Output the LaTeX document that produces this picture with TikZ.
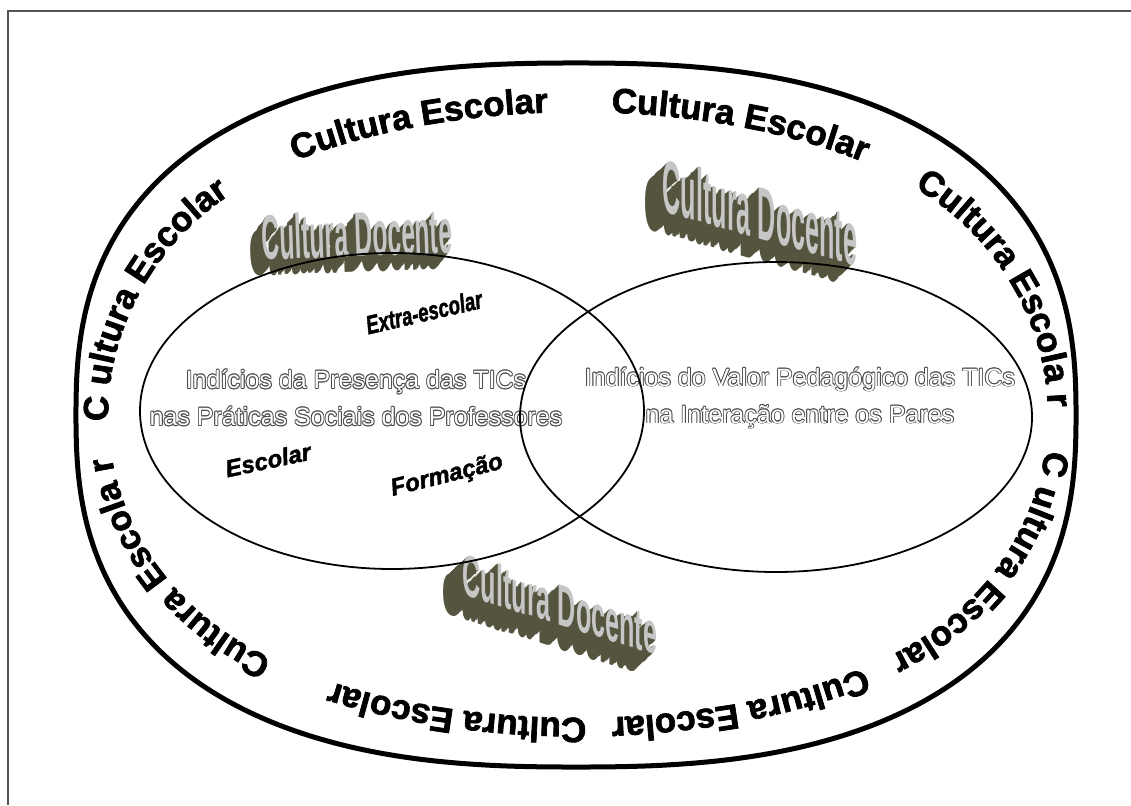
\documentclass[tikz,border=0pt]{standalone}
\usepackage{fontspec}
\setmainfont{Liberation Sans}
\newfontfamily\ringfont{Liberation Sans}[FakeBold=2]
\usepackage{graphicx}
\usetikzlibrary{decorations.text,shapes.geometric}
\definecolor{framegray}{HTML}{555555}
\definecolor{olivedark}{HTML}{55543E}
\definecolor{silver}{HTML}{C6C6C6}
\definecolor{outlgray}{HTML}{4A4A4A}
\newcommand\ringtxt{\ringfont\bfseries\fontsize{35}{35}\selectfont}
\tikzset{
  ring/.style={decorate, decoration={text along path, text align=center, text={|\ringtxt|#1}}},
  ctext/.style={font=\fontsize{25}{37}\selectfont, align=center, inner sep=0pt},
  lab/.style={font=\ringfont\bfseries\itshape\fontsize{#1}{#1}\selectfont, inner sep=0pt},
  dtext/.style={font=\bfseries\fontsize{60}{60}\selectfont, inner sep=0pt},
  venn/.style={draw, ellipse, line width=1.8pt, inner sep=0pt}
}
\newcommand\docente[7]{%
\begin{scope}[shift={#2}, rotate=#3, yslant=#4]
  \foreach \k in {#7,...,1}
    \node[dtext, text=olivedark, transform shape, xshift={-0.9pt*\k}, yshift={-1.1pt*\k}] {\scalebox{#5}[#6]{Cultura Docente}};
  \node[dtext, text=silver, transform shape] (#1) {\scalebox{#5}[#6]{Cultura Docente}};
\end{scope}}
\newcommand\olnode[3]{%
  \foreach \ang in {0,45,...,315}
    \node[ctext, text=outlgray, shift={(\ang:0.85)}] at #2 {#3};
  \node[ctext, text=white] (#1) at #2 {#3};}
\newcommand\ringat[2]{%
  \path[ring={#2}] plot[domain={#1-45}:{#1+45}, samples=91] ({578+rr(\x)*cos(\x)},{415+rr(\x)*sin(\x)});}
\begin{document}
\begin{tikzpicture}[x=1pt, y=-1pt,
  declare function={sx(\t)=cos(\t)*pow(abs(cos(\t))+0.0001,-0.2);
                    sy(\t)=sin(\t)*pow(abs(sin(\t))+0.0001,-0.2);
                    cc(\t)=cos(\t)*cos(\t);
                    ss(\t)=2.4062*sin(\t)*sin(\t);
                    rr(\t)=470*(0.8/sqrt(cc(\t)+ss(\t))+0.2/sqrt(sqrt(cc(\t)*cc(\t)+ss(\t)*ss(\t))));}]
\useasboundingbox (0,0) rectangle (1131,805);
% frame
\draw[framegray, line width=1.3pt] (8,805) -- (8,11) -- (1131,11);
% outer border
\draw[line width=5pt] plot[domain=0:358.5, samples=240, smooth cycle] ({576+500*sx(\x)},{415+352*sy(\x)});
% ring texts
\ringat{198}{C ultura Escolar}
\ringat{247.5}{Cultura Escolar}
\ringat{293}{Cultura Escolar}
\ringat{340}{Cultura Escola r}
\ringat{24}{C ultura Escolar}
\ringat{67}{Cultura Escolar}
\ringat{107}{Cultura Escolar}
\ringat{155}{Cultura Escola r}
% 3D labels
\docente{docA}{(357,234)}{2}{0}{0.41}{1.05}{14}
\docente{docB}{(760,212)}{0}{-0.28}{0.42}{1.25}{20}
\docente{docC}{(560,604)}{0}{-0.31}{0.42}{0.98}{22}
% central texts
\olnode{tl}{(356,398)}{Indícios da Presença das TICs\\nas Práticas Sociais dos Professores}
\olnode{tr}{(800,398)}{Indícios do Valor Pedagógico das TICs\\na Interação entre os Pares}
% labels
\node[lab=26, rotate=13] (extra) at (424,312) {\scalebox{0.72}[1]{Extra-escolar}};
\node[lab=24, rotate=12] (esc) at (268,460) {Escolar};
\node[lab=24, rotate=14] (form) at (447,476) {Formação};
% Venn ellipses
\node[venn, minimum width=504pt, minimum height=316pt] (left) at (392,411) {};
\node[venn, minimum width=512pt, minimum height=310pt] (right) at (776,417) {};
\end{tikzpicture}
\end{document}
